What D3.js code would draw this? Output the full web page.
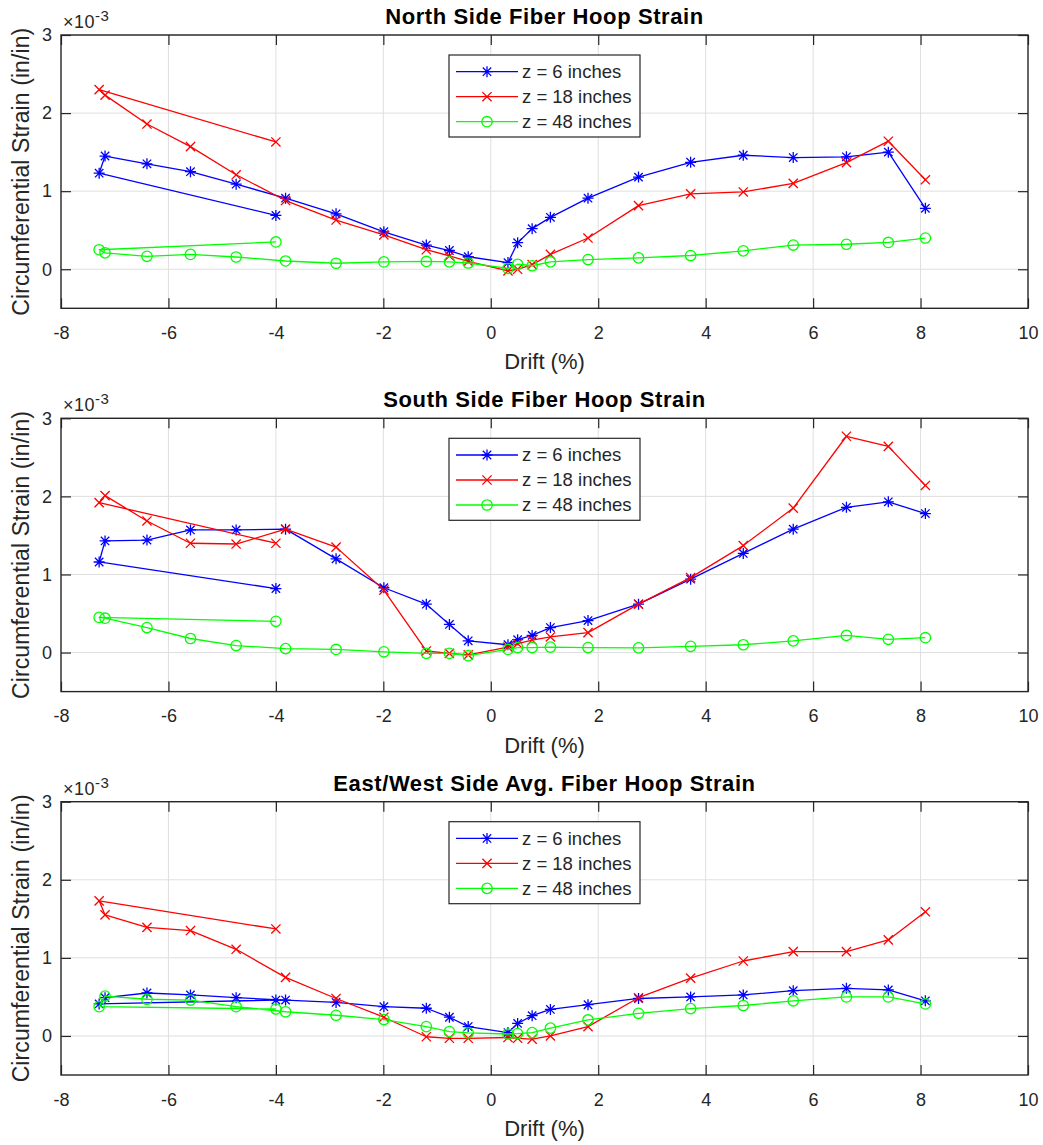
<!DOCTYPE html>
<html>
<head>
<meta charset="utf-8">
<script src="https://cdn.jsdelivr.net/npm/d3@7"></script>
<style>
  html, body { margin: 0; padding: 0; background: #fff; }
  svg { display: block; font-family: "Liberation Sans", Arial, Helvetica, sans-serif; }
</style>
</head>
<body>
<svg id="chart" width="1043" height="1145"></svg>
<script>
// ---------------- data ----------------
const drift = [-4.00, -7.29, -7.18, -6.40, -5.59, -4.74, -3.82, -2.88, -1.99, -1.20, -0.77, -0.42,
               0.32, 0.50, 0.77, 1.11, 1.81, 2.75, 3.72, 4.70, 5.63, 6.62, 7.40, 8.09];

const seriesLabels = ["z = 6 inches", "z = 18 inches", "z = 48 inches"];
const panelTitles = ["North Side Fiber Hoop Strain", "South Side Fiber Hoop Strain", "East/West Side Avg. Fiber Hoop Strain"];

// values in units of 1e-3 in/in
const northZ6  = [0.69, 1.23, 1.45, 1.35, 1.25, 1.09, 0.91, 0.71, 0.48, 0.31, 0.24, 0.16, 0.085, 0.34, 0.52, 0.665, 0.91, 1.18, 1.37, 1.46, 1.43, 1.44, 1.50, 0.78];
const northZ18 = [1.63, 2.30, 2.23, 1.86, 1.57, 1.21, 0.88, 0.63, 0.44, 0.25, 0.17, 0.10, -0.02, 0.00, 0.06, 0.19, 0.40, 0.815, 0.966, 0.99, 1.10, 1.365, 1.64, 1.146];
const northZ48 = [0.35, 0.25, 0.21, 0.166, 0.19, 0.157, 0.106, 0.077, 0.094, 0.10, 0.095, 0.08, 0.01, 0.064, 0.045, 0.095, 0.124, 0.146, 0.176, 0.236, 0.31, 0.32, 0.343, 0.40];

const southZ6  = [0.82, 1.16, 1.43, 1.44, 1.57, 1.57, 1.58, 1.20, 0.83, 0.62, 0.36, 0.15, 0.10, 0.165, 0.22, 0.32, 0.41, 0.62, 0.94, 1.27, 1.58, 1.86, 1.93, 1.78];
const southZ18 = [1.40, 1.92, 2.01, 1.685, 1.40, 1.39, 1.58, 1.35, 0.80, 0.02, -0.01, -0.03, 0.07, 0.115, 0.16, 0.20, 0.255, 0.62, 0.96, 1.37, 1.85, 2.77, 2.64, 2.14];
const southZ48 = [0.40, 0.45, 0.44, 0.32, 0.18, 0.09, 0.05, 0.04, 0.01, -0.01, -0.01, -0.04, 0.04, 0.064, 0.064, 0.07, 0.064, 0.06, 0.08, 0.10, 0.15, 0.22, 0.17, 0.19];

const ewZ6  = [0.46, 0.41, 0.49, 0.55, 0.525, 0.49, 0.46, 0.43, 0.375, 0.355, 0.24, 0.12, 0.043, 0.16, 0.26, 0.34, 0.40, 0.48, 0.50, 0.525, 0.58, 0.61, 0.59, 0.45];
const ewZ18 = [1.37, 1.73, 1.55, 1.39, 1.35, 1.11, 0.75, 0.48, 0.24, -0.01, -0.03, -0.03, -0.02, -0.03, -0.04, 0.00, 0.12, 0.49, 0.74, 0.96, 1.08, 1.08, 1.23, 1.59];
const ewZ48 = [0.345, 0.375, 0.51, 0.47, 0.46, 0.375, 0.31, 0.265, 0.21, 0.12, 0.055, 0.04, 0.025, 0.03, 0.043, 0.10, 0.205, 0.29, 0.35, 0.39, 0.45, 0.50, 0.50, 0.41];

const xTicks = [-8, -6, -4, -2, 0, 2, 4, 6, 8, 10];
const yTicks = [0, 1, 2, 3];
const xLabel = "Drift (%)";
const yLabel = "Circumferential Strain (in/in)";

const panels = [
  { title: panelTitles[0], series: [northZ6, northZ18, northZ48] },
  { title: panelTitles[1], series: [southZ6, southZ18, southZ48] },
  { title: panelTitles[2], series: [ewZ6, ewZ18, ewZ48] }
];

// ---------------- styles ----------------
const colors = ["#0000ff", "#ff0000", "#00ff00"];
const markers = ["star", "x", "circle"];
const axisColor = "#262626";
const gridColor = "#dfdfdf";

const svg = d3.select("#chart");
const left = 61, right = 1028, plotH = 273.3;
const tops = [35, 418.3, 801.7];

const x = d3.scaleLinear().domain([-8, 10]).range([left, right]);

function drawMarker(g, type, cx, cy, color) {
  if (type === "star") {
    const a = 5.5, d = 4.2;
    const p = `M${cx - a},${cy}L${cx + a},${cy}M${cx},${cy - a}L${cx},${cy + a}` +
              `M${cx - d},${cy - d}L${cx + d},${cy + d}M${cx - d},${cy + d}L${cx + d},${cy - d}`;
    g.append("path").attr("d", p).attr("stroke", color).attr("stroke-width", 1.3).attr("fill", "none");
  } else if (type === "x") {
    const d = 4.6;
    const p = `M${cx - d},${cy - d}L${cx + d},${cy + d}M${cx - d},${cy + d}L${cx + d},${cy - d}`;
    g.append("path").attr("d", p).attr("stroke", color).attr("stroke-width", 1.3).attr("fill", "none");
  } else {
    g.append("circle").attr("cx", cx).attr("cy", cy).attr("r", 5.2)
      .attr("stroke", color).attr("stroke-width", 1.3).attr("fill", "none");
  }
}

panels.forEach((panel, pi) => {
  const top = tops[pi], bottom = top + plotH;
  const y = d3.scaleLinear().domain([-0.5, 3]).range([bottom, top]);
  const g = svg.append("g");

  // grid
  g.append("g").selectAll("line").data(xTicks.slice(1, -1)).join("line")
    .attr("x1", d => x(d)).attr("x2", d => x(d)).attr("y1", top).attr("y2", bottom)
    .attr("stroke", gridColor).attr("stroke-width", 1);
  g.append("g").selectAll("line").data(yTicks).join("line")
    .attr("x1", left).attr("x2", right).attr("y1", d => y(d)).attr("y2", d => y(d))
    .attr("stroke", gridColor).attr("stroke-width", 1);

  // axes (ticks pointing inward)
  const axB = g.append("g").attr("transform", `translate(0,${bottom})`)
    .call(d3.axisBottom(x).tickValues(xTicks).tickSize(-10).tickPadding(18).tickSizeOuter(0));
  const axT = g.append("g").attr("transform", `translate(0,${top})`)
    .call(d3.axisTop(x).tickValues(xTicks).tickSize(-10).tickFormat("").tickSizeOuter(0));
  const axL = g.append("g").attr("transform", `translate(${left},0)`)
    .call(d3.axisLeft(y).tickValues(yTicks).tickSize(-10).tickPadding(9).tickSizeOuter(0));
  const axR = g.append("g").attr("transform", `translate(${right},0)`)
    .call(d3.axisRight(y).tickValues(yTicks).tickSize(-10).tickFormat("").tickSizeOuter(0));
  [axB, axT, axL, axR].forEach(a => {
    a.select(".domain").remove();
    a.selectAll(".tick line").attr("stroke", axisColor).attr("stroke-width", 1.2);
    a.selectAll(".tick text").attr("fill", axisColor).attr("font-size", 18)
      .attr("font-family", '"Liberation Sans", Arial, sans-serif');
  });
  axB.selectAll(".tick text").text(d => d3.format("d")(d).replace("−", "-"));
  axL.selectAll(".tick text").text(d => d3.format("d")(d));

  // box
  g.append("rect").attr("x", left).attr("y", top).attr("width", right - left).attr("height", plotH)
    .attr("fill", "none").attr("stroke", axisColor).attr("stroke-width", 1.4);

  // series
  const line = d3.line().x(d => x(d[0])).y(d => y(d[1]));
  panel.series.forEach((vals, si) => {
    const pts = drift.map((d, i) => [d, vals[i]]);
    g.append("path").attr("d", line(pts)).attr("fill", "none")
      .attr("stroke", colors[si]).attr("stroke-width", 1.3).attr("stroke-linejoin", "round");
    const mg = g.append("g");
    pts.forEach(p => drawMarker(mg, markers[si], x(p[0]), y(p[1]), colors[si]));
  });

  // exponent label
  const ex = g.append("text").attr("x", left + 2).attr("y", top - 7)
    .attr("fill", axisColor).attr("font-size", 18).attr("letter-spacing", 0.5);
  ex.append("tspan").text("\u00d710");
  ex.append("tspan").attr("dy", -7).attr("font-size", 15).text("-3");

  // title
  g.append("text").attr("x", (left + right) / 2).attr("y", top - 11)
    .attr("text-anchor", "middle").attr("font-weight", "bold").attr("font-size", 22)
    .attr("letter-spacing", 0.6).attr("fill", "#000").text(panel.title);

  // x label
  g.append("text").attr("x", (left + right) / 2).attr("y", bottom + 61)
    .attr("text-anchor", "middle").attr("font-size", 22).attr("fill", axisColor).text(xLabel);

  // y label
  g.append("text").attr("transform", `translate(28.5,${(top + bottom) / 2}) rotate(-90)`)
    .attr("text-anchor", "middle").attr("font-size", 23).attr("letter-spacing", 0.1)
    .attr("fill", axisColor).text(yLabel);

  // legend
  const lx = 449, ly = top + 20, lw = 191, lh = 82;
  const lg = g.append("g");
  lg.append("rect").attr("x", lx).attr("y", ly).attr("width", lw).attr("height", lh)
    .attr("fill", "#fff").attr("stroke", axisColor).attr("stroke-width", 1.2);
  seriesLabels.forEach((lab, si) => {
    const cy = ly + 16.7 + si * 25;
    lg.append("line").attr("x1", lx + 7).attr("x2", lx + 69).attr("y1", cy).attr("y2", cy)
      .attr("stroke", colors[si]).attr("stroke-width", 1.3);
    drawMarker(lg, markers[si], lx + 38, cy, colors[si]);
    lg.append("text").attr("x", lx + 73).attr("y", cy).attr("dy", "0.35em")
      .attr("font-size", 18.5).attr("fill", axisColor).text(lab);
  });
});
</script>
</body>
</html>
